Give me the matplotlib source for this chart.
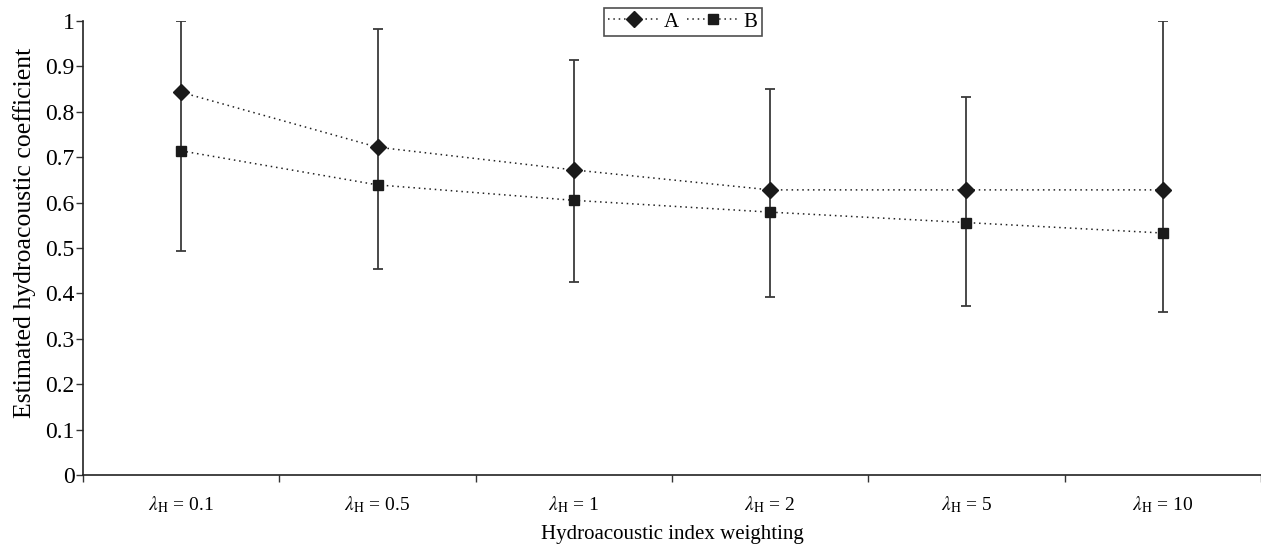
import matplotlib
matplotlib.use("Agg")
import matplotlib.pyplot as plt
import numpy as np

categories = ["0.1", "0.5", "1", "2", "5", "10"]
series_a = [0.843, 0.722, 0.672, 0.628, 0.628, 0.628]
series_b = [0.714, 0.639, 0.605, 0.579, 0.556, 0.533]
err_low = [0.494, 0.454, 0.425, 0.393, 0.373, 0.360]
err_high = [1.0, 0.983, 0.914, 0.851, 0.833, 1.0]
y_ticks = [0, 0.1, 0.2, 0.3, 0.4, 0.5, 0.6, 0.7, 0.8, 0.9, 1]
y_tick_labels = ["0", "0.1", "0.2", "0.3", "0.4", "0.5", "0.6", "0.7", "0.8", "0.9", "1"]

plt.rcParams['font.family'] = ['Liberation Serif', 'DejaVu Serif']
plt.rcParams['mathtext.fontset'] = 'stix'

fig = plt.figure(figsize=(12.61, 5.48), dpi=100)
ax = fig.add_axes([83/1261, 1 - 475/548, 1 - 83/1261, (475 - 21)/548])

x = np.arange(len(categories))
a = np.array(series_a)
lo = np.array(err_low)
hi = np.array(err_high)

ax.errorbar(x, a, yerr=[a - lo, hi - a], fmt='none', ecolor='#3a3a3a',
            elinewidth=1.3, capsize=3.3, capthick=1.3, zorder=2)
ax.plot(x, series_a, linestyle=(0, (1, 2.5)), color='#222222', linewidth=1.1,
        marker='D', markersize=8, markerfacecolor='#1a1a1a', markeredgecolor='#1a1a1a',
        label='A', zorder=3)
ax.plot(x, series_b, linestyle=(0, (1, 2.5)), color='#222222', linewidth=1.1,
        marker='s', markersize=6.8, markerfacecolor='#1a1a1a', markeredgecolor='#1a1a1a',
        label='B', zorder=3)

ax.set_xlim(-0.5, len(categories) - 0.5)
ax.set_ylim(0, 1)
ax.set_yticks(y_ticks)
ax.set_yticklabels(y_tick_labels, fontsize=17)
ax.set_xticks(x)
ax.set_xticklabels([r'$\lambda_{\rm H}$ = ' + c for c in categories], fontsize=14)
ax.set_xticks(np.arange(-0.5, len(categories) + 0.5, 1), minor=True)
ax.tick_params(axis='x', which='major', length=0, pad=14)
ax.tick_params(axis='x', which='minor', length=5, width=1, direction='out', color='#333333')
ax.tick_params(axis='y', length=5, width=1, direction='out', pad=1, color='#333333')

for s in ['top', 'right']:
    ax.spines[s].set_visible(False)
for s in ['left', 'bottom']:
    ax.spines[s].set_linewidth(1.2)
    ax.spines[s].set_color('#222222')

ax.set_ylabel('Estimated hydroacoustic coefficient', fontsize=18.5)
ax.yaxis.set_label_coords(-0.040, 0.533)
ax.set_xlabel('Hydroacoustic index weighting', fontsize=15)
ax.xaxis.set_label_coords(0.5, -0.11)

leg = ax.legend(loc='upper center', bbox_to_anchor=(0.509, 1.0286), ncol=2,
                fontsize=15, frameon=True, fancybox=False, edgecolor='#222222',
                handlelength=2.5, columnspacing=0.4, handletextpad=0.2,
                borderpad=0.2, borderaxespad=0)
leg.get_frame().set_linewidth(1.2)

fig.savefig('out.png', dpi=100)
